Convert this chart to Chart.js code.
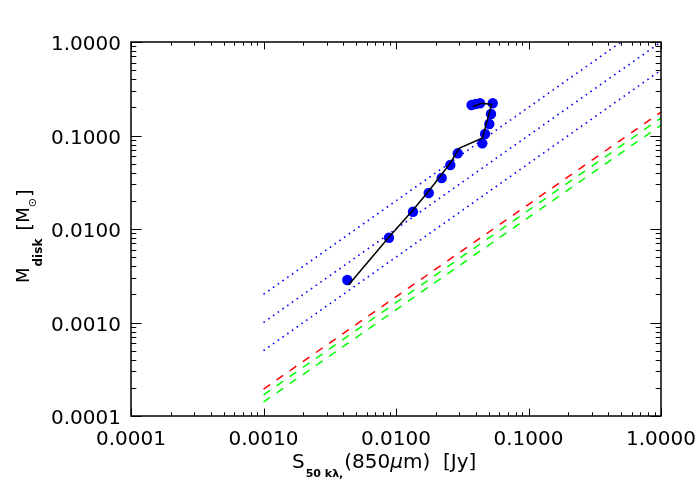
<!DOCTYPE html>
<html>
<head>
<meta charset="utf-8">
<script src="https://cdn.jsdelivr.net/npm/chart.js@4/dist/chart.umd.min.js"></script>
<style>
  html, body { margin: 0; padding: 0; background: #fff; }
  #wrap { width: 700px; height: 500px; }
</style>
</head>
<body>
<div id="wrap"><canvas id="c" width="700" height="500"></canvas></div>
<script>
// ---- data ----
const decadeTicks = [0.0001, 0.001, 0.01, 0.1, 1];

// observed points (blue filled circles)
const fluxObs = [0.00429, 0.00885, 0.01343, 0.01766, 0.02213, 0.0257, 0.02923, 0.0448, 0.0470, 0.0506, 0.0521, 0.0537, 0.0372, 0.0399, 0.0431];
const massObs = [0.00285, 0.00807, 0.01531, 0.02427, 0.0351, 0.0484, 0.0645, 0.0825, 0.1038, 0.1327, 0.170, 0.221, 0.212, 0.217, 0.221];

// model track (black line)
const fluxTrack = [0.00438, 0.00886, 0.01344, 0.01744, 0.02224, 0.0260, 0.02989, 0.0450, 0.0526, 0.0442, 0.0381];
const massTrack = [0.00252, 0.00821, 0.01596, 0.02488, 0.0388, 0.0521, 0.0730, 0.0940, 0.2147, 0.221, 0.204];

// blue dotted reference relations
const dotFluxA = [0.001, 0.5];  const dotMassA = [0.002, 1.0];
const dotFluxB = [0.001, 1.0];  const dotMassB = [0.001, 1.0];
const dotFluxC = [0.001, 1.0];  const dotMassC = [0.0005, 0.5];

// dashed relations (red, green, green)
const dashFlux   = [0.001, 1.0];
const dashRed    = [0.000194, 0.178];
const dashGreen1 = [0.000168, 0.154];
const dashGreen2 = [0.000141, 0.129];

const pts = (xs, ys) => xs.map((v, i) => ({ x: v, y: ys[i] }));

const FONT = '"DejaVu Sans", "Liberation Sans", sans-serif';

const frame = {
  id: 'frame',
  afterDraw(chart) {
    const { ctx, chartArea: a, scales: { x, y } } = chart;
    ctx.save();
    // ticks
    ctx.strokeStyle = '#000';
    ctx.lineWidth = 1;
    const h = a.bottom - a.top, w = a.right - a.left;
    const xMaj = 0.02 * h, yMaj = 0.02 * w;
    ctx.beginPath();
    for (let e = -4; e <= 0; e++) {
      for (let m = 1; m <= 9; m++) {
        const v = m * Math.pow(10, e);
        if (v > 1.0000001) break;
        const px = Math.round(x.getPixelForValue(v)) + 0.5;
        const lx = m === 1 ? xMaj : xMaj / 2;
        ctx.moveTo(px, a.bottom); ctx.lineTo(px, a.bottom - lx);
        ctx.moveTo(px, a.top); ctx.lineTo(px, a.top + lx);
        const py = Math.round(y.getPixelForValue(v)) + 0.5;
        const ly = m === 1 ? yMaj : yMaj / 2;
        ctx.moveTo(a.left, py); ctx.lineTo(a.left + ly, py);
        ctx.moveTo(a.right, py); ctx.lineTo(a.right - ly, py);
      }
    }
    ctx.stroke();
    // box
    ctx.lineWidth = 1.5;
    ctx.strokeRect(a.left, a.top, w, h);

    // x title
    ctx.fillStyle = '#000';
    ctx.textBaseline = 'alphabetic';
    ctx.textAlign = 'left';
    let tx = a.left + 161, ty = 468;
    ctx.font = '20px ' + FONT;
    ctx.fillText('S', tx, ty);
    tx += ctx.measureText('S').width + 1;
    ctx.font = 'bold 11px ' + FONT;
    ctx.fillText('50 k\u03bb,', tx, ty + 9);
    tx += ctx.measureText('50 k\u03bb,').width + 1;
    ctx.font = '20px ' + FONT;
    ctx.fillText('(850', tx, ty);
    tx += ctx.measureText('(850').width;
    ctx.font = 'italic 20px ' + FONT;
    ctx.fillText('\u03bc', tx, ty);
    tx += ctx.measureText('\u03bc').width;
    ctx.font = '20px ' + FONT;
    ctx.fillText('m)  [Jy]', tx, ty);

    // y title (rotated)
    ctx.save();
    ctx.translate(29, 283);
    ctx.rotate(-Math.PI / 2);
    let ux = 0;
    ctx.font = '18px ' + FONT;
    ctx.fillText('M', ux, 0);
    ux += ctx.measureText('M').width + 1;
    ctx.font = 'bold 12px ' + FONT;
    ctx.fillText('disk', ux, 13);
    ux += ctx.measureText('disk').width + 8;
    ctx.font = '20px ' + FONT;
    ctx.fillText('[', ux, 2);
    ux += ctx.measureText('[').width;
    ctx.font = '18px ' + FONT;
    ctx.fillText('M', ux, 0);
    ux += ctx.measureText('M').width;
    ctx.font = '11px ' + FONT;
    ctx.fillText('\u2299', ux, 7);
    ux += ctx.measureText('\u2299').width + 1;
    ctx.font = '20px ' + FONT;
    ctx.fillText(']', ux, 2);
    ctx.restore();

    ctx.restore();
  }
};

const lineDs = (label, data, color, width, dash, order) => ({
  type: 'line', label, data, borderColor: color, borderWidth: width,
  borderDash: dash, pointRadius: 0, fill: false, tension: 0, order
});

new Chart(document.getElementById('c'), {
  data: {
    datasets: [
      lineDs('track', pts(fluxTrack, massTrack), '#000000', 1.5, [], 0),
      {
        type: 'scatter', label: 'obs', data: pts(fluxObs, massObs),
        pointRadius: 5.2, pointHoverRadius: 5.2, backgroundColor: '#0000ff',
        borderWidth: 0, order: 1
      },
      lineDs('dotA', pts(dotFluxA, dotMassA), '#0000ff', 1.6, [1.6, 4.2], 2),
      lineDs('dotB', pts(dotFluxB, dotMassB), '#0000ff', 1.6, [1.6, 4.2], 2),
      lineDs('dotC', pts(dotFluxC, dotMassC), '#0000ff', 1.6, [1.6, 4.2], 2),
      lineDs('red', pts(dashFlux, dashRed), '#ff0000', 1.5, [8, 8], 3),
      lineDs('green1', pts(dashFlux, dashGreen1), '#00ff00', 1.5, [8, 8], 3),
      lineDs('green2', pts(dashFlux, dashGreen2), '#00ff00', 1.5, [8, 8], 3)
    ]
  },
  options: {
    responsive: false,
    animation: false,
    events: [],
    layout: { padding: { left: 0, right: 39, top: 42, bottom: 0 } },
    plugins: { legend: { display: false }, tooltip: { enabled: false } },
    scales: {
      x: {
        type: 'logarithmic', position: 'bottom', min: 0.0001, max: 1,
        grid: { display: false, drawTicks: false }, border: { display: false },
        afterBuildTicks: s => { s.ticks = decadeTicks.map(v => ({ value: v })); },
        afterFit: s => { s.height = 84; s.paddingLeft = 0; s.paddingRight = 0; },
        ticks: {
          autoSkip: false, maxRotation: 0, padding: 12, color: '#000',
          font: { family: FONT, size: 20 },
          callback: v => Number(v).toFixed(4)
        }
      },
      y: {
        type: 'logarithmic', position: 'left', min: 0.0001, max: 1,
        grid: { display: false, drawTicks: false }, border: { display: false },
        afterBuildTicks: s => { s.ticks = decadeTicks.map(v => ({ value: v })); },
        afterFit: s => { s.width = 131; s.paddingTop = 0; s.paddingBottom = 0; },
        ticks: {
          autoSkip: false, padding: 10, labelOffset: 3, color: '#000',
          font: { family: FONT, size: 20 },
          callback: v => Number(v).toFixed(4)
        }
      }
    }
  },
  plugins: [frame]
});
</script>
</body>
</html>
